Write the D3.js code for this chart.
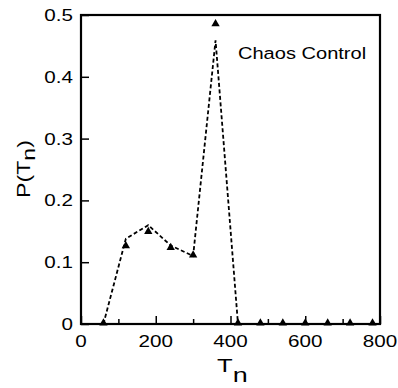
<!DOCTYPE html>
<html>
<head>
<meta charset="utf-8">
<script src="https://cdn.jsdelivr.net/npm/d3@7"></script>
<style>
  body { margin: 0; background: #fff; }
  svg { font-family: "Liberation Sans", Arial, sans-serif; }
</style>
</head>
<body>
<div class="svg-container"></div>
<script>
// periods T_n and probability P(T_n)
const markerT = [60, 120, 180, 240, 300, 360, 420, 480, 540, 600, 660, 720, 780];
const markerP = [0, 0.125, 0.148, 0.122, 0.110, 0.484, 0, 0, 0, 0, 0, 0, 0];
// dashed guide line drawn alongside the markers
const lineT = [60, 120, 180, 240, 300, 360, 420];
const lineP = [0, 0.138, 0.160, 0.127, 0.110, 0.459, 0];
const xTicks = [0, 200, 400, 600, 800];
const xMinor = [100, 300, 500, 700];
const yTicks = [0, 0.1, 0.2, 0.3, 0.4, 0.5];

const width = 398, height = 388;
const plotLeft = 81, plotRight = 380, plotTop = 15, plotBottom = 324;

const svg = d3.select("div.svg-container").append("svg")
    .attr("width", width).attr("height", height);

const x = d3.scaleLinear().domain([0, 800]).range([plotLeft, plotRight]);
const y = d3.scaleLinear().domain([0, 0.5]).range([plotBottom, plotTop]);

// text in the original is drawn a bit wider than the font
function wideText(px, py, str, size, sx, anchor) {
    return svg.append("text")
        .attr("transform", `translate(${px},${py}) scale(${sx},1)`)
        .attr("text-anchor", anchor || "start")
        .attr("font-size", size)
        .text(str);
}

// inward ticks
svg.append("g").attr("transform", `translate(0,${plotBottom})`)
    .call(d3.axisTop(x).tickValues(xTicks).tickSize(8).tickFormat(""))
    .call(g => g.select(".domain").remove())
    .selectAll("line").attr("stroke-width", 1.5);
svg.append("g").attr("transform", `translate(0,${plotBottom})`)
    .call(d3.axisTop(x).tickValues(xMinor).tickSize(5).tickFormat(""))
    .call(g => g.select(".domain").remove())
    .selectAll("line").attr("stroke-width", 1.5);
svg.append("g").attr("transform", `translate(${plotLeft},0)`)
    .call(d3.axisRight(y).tickValues(yTicks).tickSize(8).tickFormat(""))
    .call(g => g.select(".domain").remove())
    .selectAll("line").attr("stroke-width", 1.5);

// tick labels
xTicks.forEach(d => wideText(x(d), 347, String(d), 16.5, 1.25, "middle"));
yTicks.forEach(d => wideText(73, y(d) + 6, d === 0 ? "0" : d.toFixed(1), 16.5, 1.25, "end"));

// frame
svg.append("rect")
    .attr("x", plotLeft).attr("y", plotTop)
    .attr("width", plotRight - plotLeft).attr("height", plotBottom - plotTop)
    .attr("fill", "none").attr("stroke", "#000").attr("stroke-width", 2.2);

// dashed line
const line = d3.line().x(d => x(d[0])).y(d => y(d[1]));
svg.append("path")
    .datum(lineT.map((t, i) => [t, lineP[i]]))
    .attr("d", line)
    .attr("fill", "none").attr("stroke", "#000")
    .attr("stroke-width", 1.8).attr("stroke-dasharray", "4,2.5");

// triangle markers
const tri = d3.symbol().type(d3.symbolTriangle).size(30);
svg.append("g").selectAll("path").data(markerT).join("path")
    .attr("transform", (d, i) => `translate(${x(d)},${y(markerP[i]) - 1})`)
    .attr("d", tri).attr("fill", "#000");

// annotation
wideText(238, 59, "Chaos Control", 17, 1.18);

// axis titles
const yl = svg.append("text")
    .attr("transform", "translate(30,169) rotate(-90) scale(1.25,1)")
    .attr("text-anchor", "middle").attr("font-size", 18.5);
yl.append("tspan").text("P(T");
yl.append("tspan").attr("dy", 5).text("n");
yl.append("tspan").attr("dy", -5).text(")");

const xl = svg.append("text")
    .attr("transform", "translate(217,372) scale(1.35,1)")
    .attr("font-size", 19);
xl.append("tspan").text("T");
xl.append("tspan").attr("font-size", 20).attr("dy", 10).text("n");
</script>
</body>
</html>
